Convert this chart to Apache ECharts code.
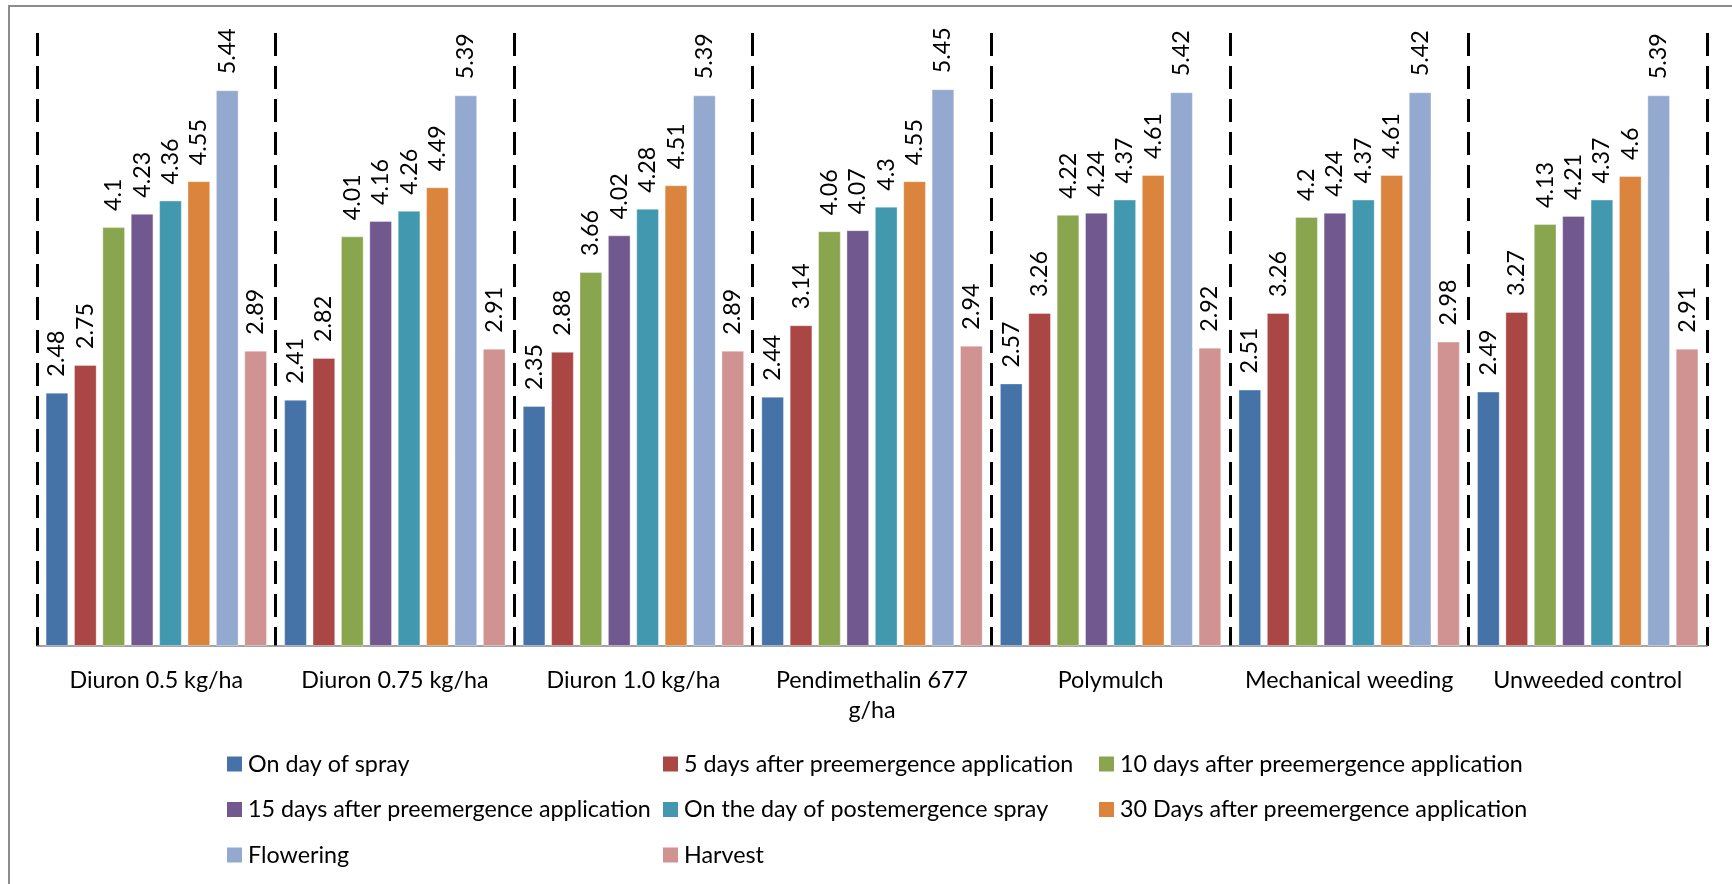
<!DOCTYPE html>
<html>
<head>
<meta charset="utf-8">
<title>Weed observations by treatment</title>
<script src="https://cdn.jsdelivr.net/npm/echarts@6/dist/echarts.min.js"></script>
<style>
  html, body { margin: 0; padding: 0; background: #fff; }
  #chart { width: 1732px; height: 884px; }
</style>
</head>
<body>
<div id="chart"></div>
<script>
// Treatments along the category axis
const categories = [
  'Diuron 0.5 kg/ha',
  'Diuron 0.75 kg/ha',
  'Diuron 1.0 kg/ha',
  'Pendimethalin 677 g/ha',
  'Polymulch',
  'Mechanical weeding',
  'Unweeded control'
];

// Observation stages (one bar series each)
const seriesNames = [
  'On day of spray',
  '5 days after preemergence application',
  '10 days after preemergence application',
  '15 days after preemergence application',
  'On the day of postemergence spray',
  '30 Days after preemergence application',
  'Flowering',
  'Harvest'
];

// Values per stage, in treatment order
const onDayOfSpray     = [2.48, 2.41, 2.35, 2.44, 2.57, 2.51, 2.49];
const fiveDaysAfter    = [2.75, 2.82, 2.88, 3.14, 3.26, 3.26, 3.27];
const tenDaysAfter     = [4.1, 4.01, 3.66, 4.06, 4.22, 4.2, 4.13];
const fifteenDaysAfter = [4.23, 4.16, 4.02, 4.07, 4.24, 4.24, 4.21];
const postemergenceDay = [4.36, 4.26, 4.28, 4.3, 4.37, 4.37, 4.37];
const thirtyDaysAfter  = [4.55, 4.49, 4.51, 4.55, 4.61, 4.61, 4.6];
const flowering        = [5.44, 5.39, 5.39, 5.45, 5.42, 5.42, 5.39];
const harvest          = [2.89, 2.91, 2.89, 2.94, 2.92, 2.98, 2.91];

const seriesValues = [
  onDayOfSpray, fiveDaysAfter, tenDaysAfter, fifteenDaysAfter,
  postemergenceDay, thirtyDaysAfter, flowering, harvest
];

const palette = ['#4572A7', '#AA4643', '#89A54E', '#71588F', '#4198AF', '#DB843D', '#93A9CF', '#D19392'];

const FONT = 'Lato';
const measureCtx = document.createElement('canvas').getContext('2d');

// Pick a font size so that a reference string spans the wanted width
function fitFontSize(text, targetWidth) {
  measureCtx.font = '100px ' + FONT;
  return Math.round(1000 * targetWidth / measureCtx.measureText(text).width) / 10;
}

// Wrap on spaces only, so units like "g/ha" stay whole
function wrapWords(text, fontSize, maxWidth) {
  measureCtx.font = fontSize + 'px ' + FONT;
  const words = text.split(' ');
  const lines = [];
  let line = '';
  words.forEach(w => {
    const trial = line ? line + ' ' + w : w;
    if (line && measureCtx.measureText(trial).width > maxWidth) {
      lines.push(line);
      line = w;
    } else {
      line = trial;
    }
  });
  if (line) lines.push(line);
  return lines.join('\n');
}

function draw() {
  const fs = fitFontSize('15 days after preemergence application', 403);
  const chart = echarts.init(document.getElementById('chart'), null, { renderer: 'canvas' });

  const legendCol = (names, left) => ({
    data: names,
    orient: 'vertical',
    left: left,
    top: 749,
    padding: 0,
    itemWidth: 15,
    itemHeight: 15,
    itemGap: 15.5,
    icon: 'rect',
    selectedMode: false,
    itemStyle: { borderWidth: 0 },
    textStyle: { fontFamily: FONT, fontSize: fs, color: '#000', lineHeight: 30, padding: [0, 0, 0, 1] }
  });

  const option = {
    backgroundColor: '#fff',
    animation: false,
    color: palette,
    textStyle: { fontFamily: FONT },
    graphic: [{
      type: 'rect',
      silent: true,
      shape: { x: 9, y: 6, width: 1800, height: 1000 },
      style: { fill: 'none', stroke: '#8c8c8c', lineWidth: 2 }
    }],
    grid: { left: 37, right: 25, top: 33, bottom: 238, outerBoundsMode: 'none', containLabel: false },
    legend: [
      legendCol([seriesNames[0], seriesNames[3], seriesNames[6]], 227),
      legendCol([seriesNames[1], seriesNames[4], seriesNames[7]], 663),
      legendCol([seriesNames[2], seriesNames[5]], 1099)
    ],
    xAxis: {
      type: 'category',
      data: categories,
      boundaryGap: true,
      axisTick: { show: false },
      axisLine: { show: true, lineStyle: { color: '#868686', width: 1.5 } },
      axisLabel: {
        interval: 0,
        margin: 19,
        color: '#000',
        fontFamily: FONT,
        fontSize: fs,
        lineHeight: 30,
        align: 'center',
        formatter: v => wrapWords(v, fs, 222)
      },
      splitLine: {
        show: true,
        interval: 0,
        lineStyle: { color: '#000', width: 3, type: [23, 10] }
      }
    },
    yAxis: {
      type: 'value',
      min: 0,
      max: 6,
      show: false,
      splitLine: { show: false }
    },
    series: seriesNames.map((name, i) => ({
      name: name,
      type: 'bar',
      data: seriesValues[i],
      barGap: '25%',
      barCategoryGap: '7.2%',
      itemStyle: { color: palette[i], borderColor: 'rgba(255,255,255,0.35)', borderWidth: 1 },
      label: {
        show: true,
        position: 'top',
        rotate: 90,
        align: 'left',
        verticalAlign: 'middle',
        distance: 16,
        color: '#000',
        fontFamily: FONT,
        fontSize: fs
      }
    }))
  };

  chart.setOption(option);
}

if (document.fonts && document.fonts.load) {
  document.fonts.load('24px ' + FONT).then(draw, draw);
} else {
  draw();
}
</script>
</body>
</html>
